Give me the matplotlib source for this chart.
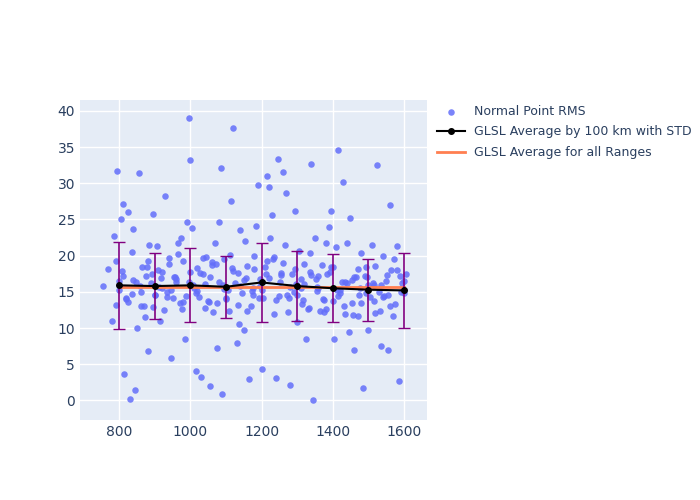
import matplotlib
matplotlib.use("Agg")
import matplotlib.pyplot as plt

pts_x = [755,770,780,785,790,795,800,805,810,815,820,825,830,835,840,845,850,855,860,865,870,875,880,885,890,895,900,905,910,915,920,925,930,935,940,945,950,955,960,965,970,975,980,985,990,995,1000,1005,1010,1015,1020,1025,1030,1035,1040,1045,1050,1055,1060,1065,1070,1075,1080,1085,1090,1095,1100,1105,1110,1115,1120,1125,1130,1135,1140,1145,1150,1155,1160,1165,1170,1175,1180,1185,1190,1195,1200,1205,1210,1215,1220,1225,1230,1235,1240,1245,1250,1255,1260,1265,1270,1275,1280,1285,1290,1295,1300,1305,1310,1315,1320,1325,1330,1335,1340,1345,1350,1355,1360,1365,1370,1375,1380,1385,1390,1395,1400,1405,1410,1415,1420,1425,1430,1435,1440,1445,1450,1455,1460,1465,1470,1475,1480,1485,1490,1495,1500,1505,1510,1515,1520,1525,1530,1535,1540,1545,1550,1555,1560,1565,1570,1575,1580,1585,1590,1595,1600,1605,
 800,820,840,860,880,900,920,940,960,980,1000,1020,1040,1060,1080,1100,1120,1140,1160,1180,1200,1220,1240,1260,1280,1300,1320,1340,1360,1380,1400,1420,1440,1460,1480,1500,1520,1540,1560,1580,1600,
 790,812,835,858,877,896,918,945,966,988,1008,1028,1052,1073,1093,1112,1133,1152,1173,1193,1213,1233,1252,1272,1293,1312,1333,1352,1373,1393,1413,1433,1453,1472,1493,1513,1532,1552,1572,1592,
 808,826,848,872,892,912,934,956,976,996,1016,1036,1056,1076,1096,1116,1136,1156,1176,1196,1216,1236,1256,1276,1296,1316,1336,1356,1376,1396,1416,1436,1456,1476,1496,1516,1536,1556,1576,1596]
pts_y = [15.8,18.2,11,22.7,19.3,31.7,16.5,25,27.1,3.7,14,26,0.2,20.5,23.7,1.5,10,31.4,15,18.5,13,17.2,6.8,21.5,16.2,25.8,14.5,21.3,18,11,17.8,12.5,28.2,15,19.7,5.8,14.2,17,16.8,21.7,13.5,22.5,19.3,8.5,24.6,39,33.2,23.8,15.5,4,18.3,14.3,3.2,17.5,16.1,19.8,13.8,2,18.7,12.2,21.8,7.3,24.6,32.1,0.9,19.5,14,15.2,12.4,27.5,37.6,16.2,8,17.6,23.5,14.8,9.8,22,18.6,2.9,13,15.6,20,24.1,29.7,16.8,4.4,14.2,18.5,31,29.5,22.5,25.6,19.8,3.1,33.3,14.4,17.3,31.5,21.5,28.7,12.2,2.1,17.5,15,26.2,10.9,20.6,16.8,13.3,18.8,8.5,12.7,20.3,32.6,0.1,22.5,15.7,17.2,12.4,18.7,13.9,21.8,17.5,24,26.2,13.8,8.5,21.2,34.6,15.2,16.4,30.2,12,21.8,9.5,25.2,13.5,7,17,11.6,14.5,20.3,1.7,17.2,18.5,9.8,14.3,21.5,16,12.1,32.5,15,7.5,19.9,14.4,16.5,6.9,27,18,11.7,13.3,21.3,2.7,17.2,16.2,
 14.8,17.5,15.2,14.2,16.6,13,19.2,14.6,15.5,18.9,16.4,13.6,17.8,15.1,12.8,19.1,16.3,14.1,17.9,15.8,12.3,18.2,15.3,16.9,13.9,19,15.7,14.5,16.1,17.3,15.6,12.6,18.4,14.9,16.2,17,13.4,15.9,18.6,14.3,13.1,
 18,16.5,13.2,17.2,14.7,15.8,18.5,12.9,16.9,15.2,20.2,14.4,16,17.6,13.6,18.8,15.9,20.1,13.2,16.7,15.1,14.1,17.4,19.5,16.4,14.6,18.2,15.5,12.8,16.8,14,17.7,15.3,13.1,16.6,18.1,14.9,16.2,12.4,17.3,
 19.5,15,17.9,13.6,16.3,11.5,17.4,15.7,14.3,17.1,12.7,16.4,14.8,19.7,17,13.4,15.4,18.3,10.5,16.9,14.5,15.8,19.2,12,17.6,14.2,16.1,13.9,17.8,15.1,12.2,18.5,14.4,16.3,11.8,15.5,17.1,13.7,15.9,14.6]

avg_x = [800,900,1000,1100,1200,1300,1400,1500,1600]
avg_y = [15.9,15.8,15.9,15.7,16.3,15.8,15.5,15.3,15.2]
avg_std = [6.0,4.5,5.1,4.3,5.4,4.8,4.7,4.3,5.2]
overall_avg = 15.7

fig = plt.figure(figsize=(7,5), dpi=100)
ax = fig.add_axes([80/700, 80/500, 347/700, 320/500])
ax.set_facecolor("#e5ecf6")
ax.grid(color="white", linewidth=1)
ax.set_axisbelow(True)
for s in ax.spines.values():
    s.set_visible(False)
ax.tick_params(length=0, labelcolor="#2a3f5f", labelsize=10)
n = min(len(pts_x), len(pts_y))
h1 = ax.scatter(pts_x[:n], pts_y[:n], s=22, color="#636efa", alpha=0.85, linewidths=0, zorder=2)
h2 = ax.errorbar(avg_x, avg_y, yerr=avg_std, color="black", marker="o", markersize=4, linewidth=1.5,
            ecolor="purple", elinewidth=1.2, capsize=4, zorder=4)
h3, = ax.plot([avg_x[0], avg_x[-1]], [overall_avg]*2, color="#ff7f50", linewidth=2, zorder=3)
ax.set_xlim(690, 1665)
ax.set_ylim(-2.7, 41.5)
ax.set_xticks([800,1000,1200,1400,1600])
ax.set_yticks(range(0,41,5))
from matplotlib.lines import Line2D
eh = Line2D([], [], color="black", marker="o", markersize=4, linewidth=1.5)
leg = fig.legend([h1, eh, h3], ["Normal Point RMS", "GLSL Average by 100 km with STD", "GLSL Average for all Ranges"],
                 loc="upper left", bbox_to_anchor=(432/700, 1-100/500), frameon=False, fontsize=9,
                 handlelength=2.2, borderaxespad=0, labelspacing=0.6)
for t in leg.get_texts():
    t.set_color("#2a3f5f")
fig.savefig("out.png")
